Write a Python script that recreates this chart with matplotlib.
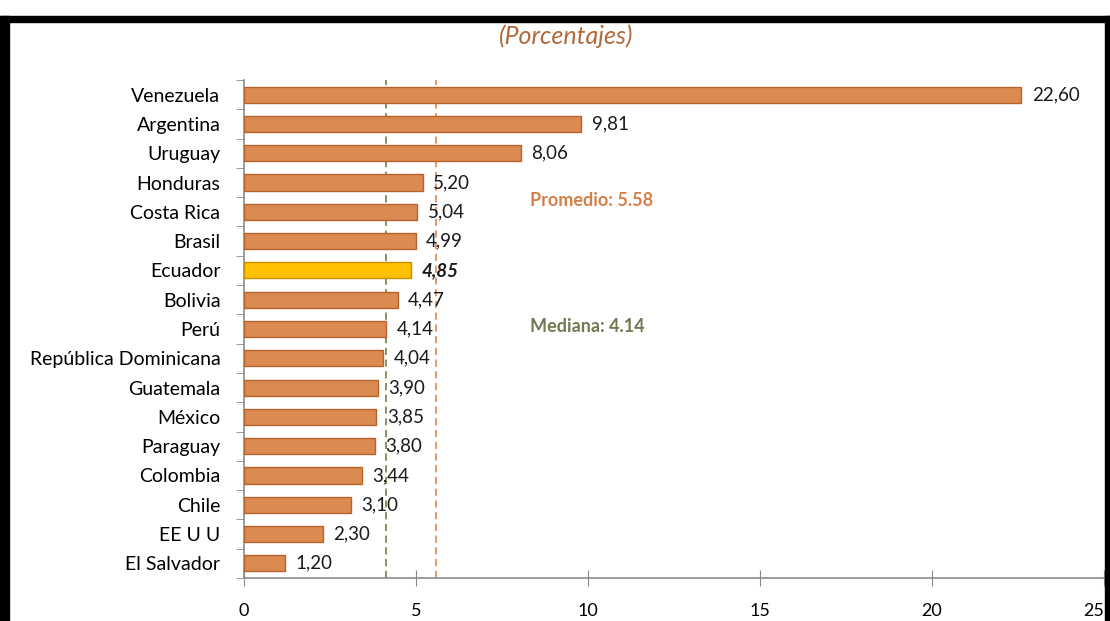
import numpy as np
import matplotlib
matplotlib.use("Agg")
import matplotlib.pyplot as plt
from matplotlib.patches import Rectangle

plt.rcParams['font.family'] = ['Lato', 'DejaVu Sans']

countries = ["Venezuela", "Argentina", "Uruguay", "Honduras", "Costa Rica", "Brasil",
             "Ecuador", "Bolivia", "Perú", "República Dominicana", "Guatemala", "México",
             "Paraguay", "Colombia", "Chile", "EE U U", "El Salvador"]
values = [22.60, 9.81, 8.06, 5.20, 5.04, 4.99, 4.85, 4.47, 4.14, 4.04, 3.90, 3.85,
          3.80, 3.44, 3.10, 2.30, 1.20]
highlight = "Ecuador"
x_ticks = [0, 5, 10, 15, 20, 25]

bar_color = "#DB8A52"
bar_edge = "#B8632C"
hl_color = "#FFC000"
hl_edge = "#C89000"
mean_color = "#E0925E"
median_color = "#7D8A55"

mean_val = float(np.mean(values))
median_val = float(np.median(values))

fig = plt.figure(figsize=(11.10, 6.21), dpi=100)
fig.patch.set_facecolor("white")

# black frame around the panel
fig.add_artist(Rectangle((0, 1 - 22 / 621), 1, 6 / 621, transform=fig.transFigure,
                         color="black", zorder=10))
fig.add_artist(Rectangle((0, 0), 9 / 1110, 1 - 16 / 621, transform=fig.transFigure,
                         color="black", zorder=10))
fig.add_artist(Rectangle((1 - 5 / 1110, 0), 5 / 1110, 1 - 16 / 621, transform=fig.transFigure,
                         color="black", zorder=10))

ax = fig.add_axes([244 / 1110, 1 - 578 / 621, (1104 - 244) / 1110, (578 - 80) / 621])

y = np.arange(len(countries))
colors = [hl_color if c == highlight else bar_color for c in countries]
edges = [hl_edge if c == highlight else bar_edge for c in countries]
ax.barh(y, values, height=0.55, color=colors, edgecolor=edges, linewidth=1.0, zorder=3)

for yi, (c, v) in enumerate(zip(countries, values)):
    txt = f"{v:.2f}".replace(".", ",")
    if c == highlight:
        ax.text(v + 0.3, yi, txt, va="center", ha="left", fontsize=13.5,
                fontweight="bold", fontstyle="italic", color="#1a1a1a", zorder=4)
    else:
        ax.text(v + 0.3, yi, txt, va="center", ha="left", fontsize=13.5,
                color="#1a1a1a", zorder=4)

# mean and median reference lines
ax.axvline(median_val, color=median_color, linestyle=(0, (4, 2.5)), linewidth=1.3, zorder=2)
ax.axvline(mean_val, color=mean_color, linestyle=(0, (4, 2.5)), linewidth=1.3, zorder=2)
ax.text(8.31, 3.62, f"Promedio: {mean_val:.2f}", color="#D47F48", fontsize=13,
        fontweight="bold", va="center", ha="left")
ax.text(8.31, 7.9, f"Mediana: {median_val:.2f}", color="#6F7A52", fontsize=13,
        fontweight="bold", va="center", ha="left")

ax.set_xlim(0, 25)
ax.set_ylim(len(countries) - 0.5, -0.5)
ax.set_xticks(x_ticks)
ax.set_xticklabels([str(t) for t in x_ticks], fontsize=13)
# keep the last tick label inside the frame
ax.get_xticklabels()[-1].set_horizontalalignment("right")
ax.set_yticks(y)
ax.set_yticklabels(countries, fontsize=14)
ax.set_yticks(np.arange(-0.5, len(countries), 1), minor=True)

for s in ["top", "right"]:
    ax.spines[s].set_visible(False)
for s in ["left", "bottom"]:
    ax.spines[s].set_color("#8c8c8c")
    ax.spines[s].set_linewidth(1.2)

ax.tick_params(axis="y", which="major", length=0, pad=17)
ax.tick_params(axis="y", which="minor", length=6, color="#8c8c8c", direction="out")
ax.tick_params(axis="x", which="major", length=12, color="#8c8c8c", direction="inout", pad=12)

fig.text(566 / 1110, 1 - 36 / 621, "(Porcentajes)", ha="center", va="center",
         fontsize=18, fontstyle="italic", color="#B06A3B")

fig.savefig("out.png", dpi=100, facecolor="white")
